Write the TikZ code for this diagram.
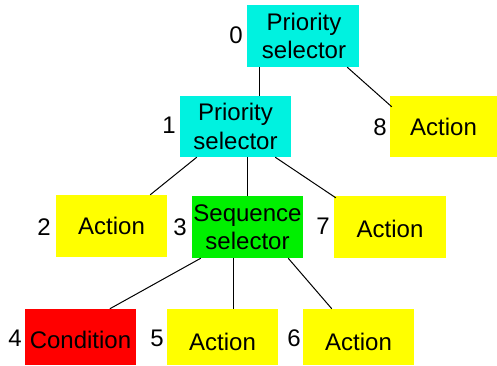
\documentclass[tikz,border=0pt]{standalone}
\usepackage{fontspec}
\setmainfont{Liberation Sans}
\usetikzlibrary{calc}
\definecolor{cyanbox}{HTML}{00F2E0}
\definecolor{greenbox}{HTML}{00F000}
\definecolor{yellowbox}{HTML}{FFFF00}
\definecolor{redbox}{HTML}{FF0000}
\newcommand{\lowered}[2]{\raisebox{-#1pt}[\height][\depth]{#2}}
\tikzset{
  bt/.style={inner sep=0pt, align=center, font=\fontsize{24}{28.5}\selectfont, minimum width=111pt, minimum height=62pt},
  sel/.style={bt, fill=cyanbox},
  seq/.style={bt, fill=greenbox},
  act/.style={bt, fill=yellowbox},
  cond/.style={bt, fill=redbox},
  num/.style={inner sep=0pt, font=\fontsize{24}{28}\selectfont},
  edge/.style={draw=black, line width=1pt}
}
\begin{document}
\begin{tikzpicture}[x=1pt,y=-1pt]
\useasboundingbox (0,0) rectangle (497,365);
\node[sel, minimum width=112pt] (n0) at (303,36) {\hspace*{2pt}Priority\\\hspace*{2pt}selector};
\node[act, minimum width=107pt, minimum height=61pt] (n8) at (443.5,126.5) {Action};
\node[sel, minimum height=61pt] (n1) at (235.5,126.5) {Priority\\selector};
\node[act] (n2) at (111.5,226) {Action};
\node[seq] (n3) at (247.5,227) {Sequence\\selector};
\node[act, minimum width=112pt] (n7) at (390,227) {\lowered{2}{Action}};
\node[cond, minimum height=56pt] (n4) at (80.5,337) {\lowered{2.5}{Condition}};
\node[act, minimum height=56pt] (n5) at (222.5,337) {\lowered{5}{Action}};
\node[act, minimum height=56pt] (n6) at (358.5,337) {\lowered{5}{Action}};
\node[num] (l0) at (236,35) {0};
\node[num] (l8) at (380,127) {8};
\node[num] (l1) at (169,125) {1};
\node[num] (l2) at (44,227) {2};
\node[num] (l3) at (180,227) {3};
\node[num] (l7) at (323,226) {7};
\node[num] (l4) at (15,338) {4};
\node[num] (l5) at (157,338) {5};
\node[num] (l6) at (294,338) {6};
\draw[edge] ($(n0.south west)+(13,0)$) -- ($(n1.north west)+(80,0)$);
\draw[edge] ($(n0.south east)+(-12,0)$) -- ($(n8.north west)+(2,11)$);
\draw[edge] ($(n1.south west)+(17,0)$) -- ($(n2.north east)+(-17,0)$);
\draw[edge] ($(n1.south west)+(68,0)$) -- ($(n3.north west)+(56,0)$);
\draw[edge] ($(n1.south east)+(-16,0)$) -- ($(n7.north west)+(2,2)$);
\draw[edge] ($(n3.south west)+(9,0)$) -- ($(n4.north west)+(85,0)$);
\draw[edge] ($(n3.south west)+(42,0)$) -- ($(n5.north west)+(67,0)$);
\draw[edge] ($(n3.south east)+(-15,0)$) -- ($(n6.north west)+(29,0)$);
\end{tikzpicture}
\end{document}
